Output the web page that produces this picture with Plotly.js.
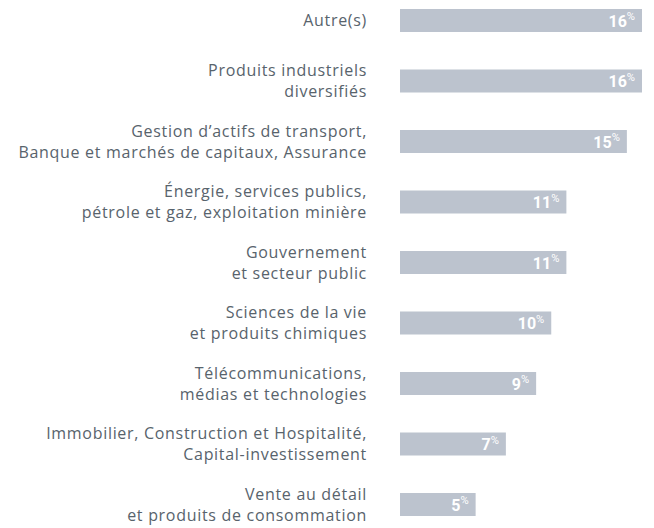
<!DOCTYPE html>
<html>
<head>
<meta charset="utf-8">
<script src="https://cdn.plot.ly/plotly-3.0.1.min.js"></script>
<style>
html,body{margin:0;padding:0;background:#fff;}
#chart{width:654px;height:528px;}
#chart .ytick text{letter-spacing:0.7px;}
</style>
</head>
<body>
<div id="chart"></div>
<script>
const categories = [
  "Autre(s)",
  "Produits industriels<br>diversifiés",
  "Gestion d’actifs de transport,<br>Banque et marchés de capitaux, Assurance",
  "Énergie, services publics,<br>pétrole et gaz, exploitation minière",
  "Gouvernement<br>et secteur public",
  "Sciences de la vie<br>et produits chimiques",
  "Télécommunications,<br>médias et technologies",
  "Immobilier, Construction et Hospitalité,<br>Capital-investissement",
  "Vente au détail<br>et produits de consommation"
];
const values = [16, 16, 15, 11, 11, 10, 9, 7, 5];

const trace = {
  type: 'bar',
  orientation: 'h',
  x: values,
  y: categories,
  marker: {color: '#bcc3ce'},
  width: 0.38,
  texttemplate: '<b>%{x}</b><sup>%</sup>\u00a0',
  textposition: 'inside',
  insidetextanchor: 'end',
  constraintext: 'none',
  textangle: 0,
  textfont: {family: 'Roboto, sans-serif', size: 16, color: '#ffffff'},
  hoverinfo: 'none'
};

const layout = {
  width: 654,
  height: 528,
  margin: {l: 400, r: 12, t: 0, b: 0},
  paper_bgcolor: '#ffffff',
  plot_bgcolor: '#ffffff',
  showlegend: false,
  xaxis: {range: [0, 16], visible: false, fixedrange: true},
  yaxis: {
    type: 'category',
    range: [8.388, -0.339],
    showgrid: false,
    zeroline: false,
    showline: false,
    ticks: '',
    ticklabelstandoff: 32,
    tickfont: {family: '"Open Sans", sans-serif', size: 16, color: '#58636c'}
  }
};

Plotly.newPlot('chart', [trace], layout, {displayModeBar: false, staticPlot: true});
</script>
</body>
</html>
